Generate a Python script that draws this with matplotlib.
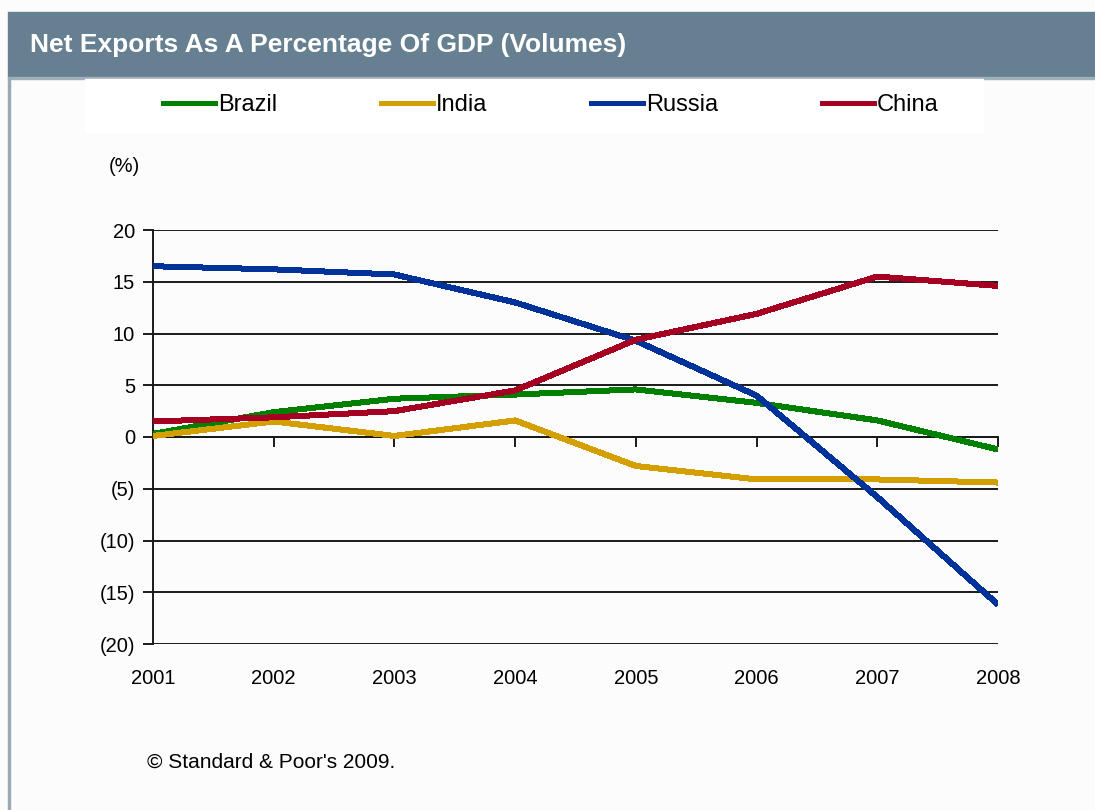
import matplotlib.pyplot as plt
from matplotlib.patches import Rectangle
from matplotlib.lines import Line2D

years = [2001, 2002, 2003, 2004, 2005, 2006, 2007, 2008]
brazil = [0.3, 2.4, 3.7, 4.1, 4.6, 3.3, 1.6, -1.2]
india = [0.1, 1.5, 0.1, 1.6, -2.8, -4.1, -4.1, -4.4]
russia = [16.5, 16.2, 15.7, 13.0, 9.3, 4.0, -5.8, -16.2]
china = [1.5, 1.9, 2.5, 4.5, 9.4, 11.9, 15.5, 14.6]

series_names = ['Brazil', 'India', 'Russia', 'China']
series_colors = ['#008000', '#d49f00', '#003399', '#a50021']

y_ticks = [20, 15, 10, 5, 0, -5, -10, -15, -20]
y_labels = ['20', '15', '10', '5', '0', '(5)', '(10)', '(15)', '(20)']

plt.rcParams['font.family'] = ['Liberation Sans', 'DejaVu Sans']

W, H = 1095, 810
fig = plt.figure(figsize=(W / 100, H / 100), dpi=100, facecolor='#fcfcfc')

# header band, legend backing and left frame line
fig.patches.append(Rectangle((8 / W, 1 - 77 / H), 1 - 8 / W, 65 / H,
                             transform=fig.transFigure, color='#667f91', zorder=0))
fig.patches.append(Rectangle((8 / W, 1 - 79 / H), 1 - 8 / W, 2 / H,
                             transform=fig.transFigure, color='#9fb0bc', zorder=0))
fig.patches.append(Rectangle((85 / W, 1 - 132 / H), 898 / W, 53 / H,
                             transform=fig.transFigure, color='white', zorder=0))
fig.patches.append(Rectangle((8 / W, 0), 2 / W, 1 - 77 / H,
                             transform=fig.transFigure, color='#9aa9b4', zorder=0))

fig.text(30 / W, 1 - 45 / H, 'Net Exports As A Percentage Of GDP (Volumes)',
         color='white', fontsize=19, fontweight='bold', va='center')

ax = fig.add_axes([153 / W, 1 - 644 / H, (998 - 153) / W, (644 - 230) / H])
ax.set_facecolor('none')

for vals, name, col in zip([brazil, india, russia, china], series_names, series_colors):
    ax.plot(years, vals, color=col, lw=3.6, solid_capstyle='butt',
            antialiased=False, zorder=3, label=name)

ax.set_xlim(years[0], years[-1])
ax.set_ylim(-20, 20)
ax.set_yticks(y_ticks)
ax.set_yticklabels(y_labels)
for v in y_ticks:
    ax.axhline(v, color='#1a1a1a', lw=1.4, zorder=1)

for side in ['top', 'right']:
    ax.spines[side].set_visible(False)
ax.spines['left'].set_color('#1a1a1a')
ax.spines['left'].set_linewidth(1.4)
ax.spines['bottom'].set_position(('data', 0))
ax.spines['bottom'].set_color('#1a1a1a')
ax.spines['bottom'].set_linewidth(1.4)

ax.set_xticks(years)
ax.tick_params(axis='x', direction='out', length=7, width=1.4, color='#1a1a1a',
               labelbottom=False)
ax.tick_params(axis='y', direction='out', length=7, width=1.4, color='#1a1a1a',
               labelsize=14.5, pad=6)

# year labels sit below the plot, not on the zero line
xax = ax.secondary_xaxis('bottom')
xax.set_xticks(years)
xax.set_xticklabels([str(y) for y in years])
xax.tick_params(length=0, labelsize=14.5, pad=18)
xax.spines['bottom'].set_visible(False)

fig.text(124 / W, 1 - 167 / H, '(%)', fontsize=14.5, ha='center', va='center')

handles = [Line2D([], [], color=c, lw=3.6) for c in series_colors]
leg = fig.legend(handles, series_names, loc='center', ncol=4,
                 bbox_to_anchor=(551 / W, 1 - 105 / H), frameon=False,
                 fontsize=17, handlelength=2.2, handletextpad=0.12,
                 columnspacing=4.4)

fig.text(147 / W, 1 - 762 / H, "\u00a9 Standard & Poor's 2009.", fontsize=15,
         va='center')

fig.savefig('out.png', dpi=100, facecolor=fig.get_facecolor())
